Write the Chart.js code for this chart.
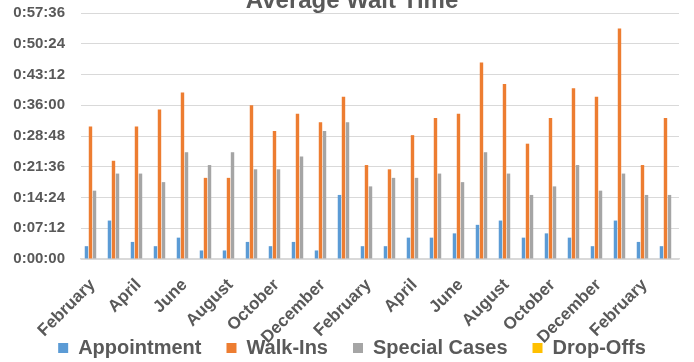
<!DOCTYPE html>
<html>
<head>
<meta charset="utf-8">
<script src="https://cdn.jsdelivr.net/npm/chart.js@4/dist/chart.umd.min.js"></script>
<style>
  html, body { margin: 0; padding: 0; background: #ffffff; }
  #wrap { position: relative; width: 694px; height: 362px; overflow: hidden; }
  canvas { display: block; }
</style>
</head>
<body>
<div id="wrap"><canvas id="chart" width="694" height="362"></canvas></div>
<script>
// Months covered, February through March two years later
const months = [
  "February", "March", "April", "May", "June", "July", "August", "September",
  "October", "November", "December", "January",
  "February", "March", "April", "May", "June", "July", "August", "September",
  "October", "November", "December", "January",
  "February", "March"
];

// Average wait per month, in minutes
const appointment = [3, 9, 4, 3, 5, 2, 2, 4, 3, 4, 2, 15, 3, 3, 5, 5, 6, 8, 9, 5, 6, 5, 3, 9, 4, 3];
const walkIns     = [31, 23, 31, 35, 39, 19, 19, 36, 30, 34, 32, 38, 22, 21, 29, 33, 34, 46, 41, 27, 33, 40, 38, 54, 22, 33];
const specialCases = [16, 20, 20, 18, 25, 22, 25, 21, 21, 24, 30, 32, 17, 19, 19, 20, 18, 25, 20, 15, 17, 22, 16, 20, 15, 15];
const dropOffs    = [0, 0, 0, 0, 0, 0, 0, 0, 0, 0, 0, 0, 0, 0, 0, 0, 0, 0, 0, 0, 0, 0, 0, 0, 0, 0];

// Axis range and step in minutes (0:57:36 max, 0:07:12 step)
const yMax = 57.6;
const yStep = 7.2;

const chartTitle = "Average Wait Time";
const textColor = "#595959";
const fontFamily = "'Liberation Sans', Arial, sans-serif";

function toClock(minutes) {
  const total = Math.round(minutes * 60);
  const h = Math.floor(total / 3600);
  const m = Math.floor((total % 3600) / 60);
  const s = total % 60;
  return h + ":" + String(m).padStart(2, "0") + ":" + String(s).padStart(2, "0");
}

// Title drawn partly above the canvas edge
const titlePlugin = {
  id: "topTitle",
  afterDraw(chart) {
    const ctx = chart.ctx;
    ctx.save();
    ctx.font = "bold 24px " + fontFamily;
    ctx.fillStyle = textColor;
    ctx.textAlign = "center";
    ctx.textBaseline = "alphabetic";
    ctx.fillText(chartTitle, 352, 8);
    ctx.restore();
  }
};

// After layout: nudge the legend row right and let the month labels
// hang down past the axis box (they overlap the legend area)
const layoutTweaks = {
  id: "layoutTweaks",
  afterLayout(chart) {
    if (chart.legend) {
      chart.legend.left += 6;
      chart.legend.right += 6;
    }
    const x = chart.scales.x;
    if (x) x.bottom = chart.height;
  }
};

new Chart(document.getElementById("chart"), {
  type: "bar",
  data: {
    labels: months,
    datasets: [
      { label: "Appointment", data: appointment, backgroundColor: "#5b9bd5" },
      { label: "Walk-Ins", data: walkIns, backgroundColor: "#ed7d31" },
      { label: "Special Cases", data: specialCases, backgroundColor: "#a5a5a5" },
      { label: "Drop-Offs", data: dropOffs, backgroundColor: "#ffc000" }
    ]
  },
  options: {
    responsive: false,
    animation: false,
    layout: { padding: { top: 13, left: 13, right: 15, bottom: -6 } },
    datasets: {
      bar: { categoryPercentage: 0.7, barPercentage: 0.85, borderWidth: 0 }
    },
    scales: {
      x: {
        grid: { display: false, drawTicks: false },
        border: { color: "#d9d9d9", width: 1.5 },
        ticks: {
          autoSkip: false,
          maxRotation: 45,
          minRotation: 45,
          padding: 16,
          color: textColor,
          font: { family: fontFamily, size: 17, weight: "bold" },
          callback: function (value, index) {
            return index % 2 === 0 ? this.getLabelForValue(value) : "";
          }
        },
        afterFit(scale) {
          scale.height = 54;
          scale.paddingLeft = 0;
          scale.paddingRight = 0;
        }
      },
      y: {
        min: 0,
        max: yMax,
        grid: { color: "#d9d9d9", drawTicks: false },
        border: { display: false },
        ticks: {
          stepSize: yStep,
          padding: 16,
          color: textColor,
          font: { family: fontFamily, size: 15, weight: "bold" },
          callback: (v) => toClock(v)
        },
        afterFit(scale) {
          scale.width = 68;
          scale.paddingTop = 0;
          scale.paddingBottom = 0;
        }
      }
    },
    plugins: {
      legend: {
        position: "bottom",
        labels: {
          boxWidth: 10,
          boxHeight: 10,
          padding: 25,
          color: textColor,
          font: { family: fontFamily, size: 20, weight: "bold" }
        }
      },
      title: { display: false },
      tooltip: { enabled: false }
    }
  },
  plugins: [titlePlugin, layoutTweaks]
});
</script>
</body>
</html>
